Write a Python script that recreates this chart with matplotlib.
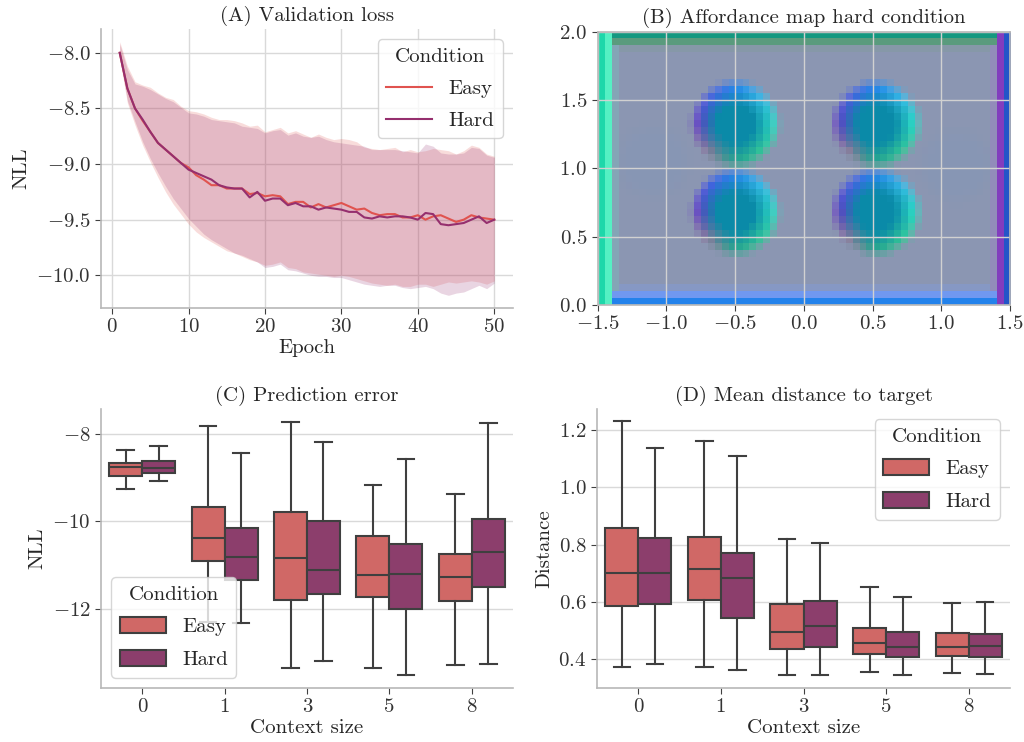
import numpy as np
import matplotlib
matplotlib.use("Agg")
import matplotlib.pyplot as plt
from matplotlib.patches import Patch

plt.rcParams.update({
    "font.family": "serif",
    "font.serif": ["cmr10"],
    "mathtext.fontset": "cm",
    "axes.formatter.use_mathtext": True,
    "font.size": 15,
    "axes.titlesize": 15,
    "axes.labelsize": 15,
    "text.color": "0.15",
    "axes.labelcolor": "0.15",
    "xtick.color": "0.25",
    "ytick.color": "0.25",
    "xtick.labelcolor": "0.2",
    "ytick.labelcolor": "0.2",
    "axes.edgecolor": "0.72",
    "axes.linewidth": 1.2,
    "grid.color": "0.85",
    "grid.linewidth": 1.0,
    "xtick.major.size": 4,
    "ytick.major.size": 4,
    "legend.fontsize": 15,
    "legend.title_fontsize": 15,
    "legend.labelspacing": 0.65,
})

# ---------------- data ----------------
epochs = list(range(1, 51))
easy_loss = [-8.00, -8.32, -8.50, -8.61, -8.71, -8.81, -8.87, -8.93, -8.99, -9.03,
             -9.10, -9.14, -9.19, -9.19, -9.22, -9.22, -9.22, -9.27, -9.26, -9.29,
             -9.28, -9.29, -9.36, -9.34, -9.34, -9.39, -9.36, -9.39, -9.37, -9.35,
             -9.38, -9.41, -9.40, -9.44, -9.46, -9.45, -9.45, -9.48, -9.48, -9.46,
             -9.50, -9.47, -9.46, -9.49, -9.52, -9.50, -9.46, -9.48, -9.49, -9.50]
hard_loss = [-8.00, -8.32, -8.50, -8.60, -8.71, -8.81, -8.87, -8.93, -8.99, -9.05,
             -9.08, -9.11, -9.14, -9.19, -9.21, -9.22, -9.22, -9.30, -9.25, -9.33,
             -9.31, -9.31, -9.37, -9.35, -9.38, -9.38, -9.41, -9.39, -9.40, -9.41,
             -9.43, -9.43, -9.48, -9.49, -9.47, -9.48, -9.47, -9.47, -9.48, -9.50,
             -9.44, -9.45, -9.54, -9.55, -9.54, -9.53, -9.50, -9.47, -9.53, -9.50]
easy_upper = [-7.90, -8.12, -8.26, -8.29, -8.31, -8.36, -8.40, -8.42, -8.48, -8.52,
              -8.53, -8.55, -8.58, -8.60, -8.60, -8.61, -8.63, -8.66, -8.65, -8.71,
              -8.69, -8.67, -8.72, -8.70, -8.73, -8.76, -8.73, -8.76, -8.78, -8.77,
              -8.78, -8.80, -8.85, -8.86, -8.87, -8.86, -8.85, -8.89, -8.87, -8.89,
              -8.88, -8.86, -8.87, -8.88, -8.91, -8.88, -8.83, -8.85, -8.91, -8.93]
hard_upper = [-7.92, -8.15, -8.28, -8.30, -8.33, -8.37, -8.41, -8.44, -8.49, -8.54,
              -8.55, -8.57, -8.60, -8.61, -8.62, -8.63, -8.66, -8.67, -8.68, -8.72,
              -8.70, -8.69, -8.74, -8.72, -8.75, -8.76, -8.75, -8.78, -8.80, -8.81,
              -8.82, -8.83, -8.84, -8.87, -8.87, -8.87, -8.87, -8.88, -8.89, -8.90,
              -8.82, -8.84, -8.90, -8.91, -8.91, -8.90, -8.85, -8.86, -8.92, -8.94]
easy_lower = [-8.05, -8.45, -8.65, -8.83, -8.98, -9.12, -9.25, -9.36, -9.45, -9.54,
              -9.61, -9.66, -9.70, -9.74, -9.78, -9.80, -9.83, -9.86, -9.88, -9.91,
              -9.90, -9.88, -9.93, -9.94, -9.97, -9.98, -9.99, -10.00, -10.01, -10.00,
              -10.01, -10.03, -10.05, -10.07, -10.08, -10.09, -10.08, -10.10, -10.10, -10.08,
              -10.08, -10.10, -10.08, -10.06, -10.07, -10.06, -10.05, -10.06, -10.08, -10.05]
hard_lower = [-8.04, -8.43, -8.62, -8.80, -8.95, -9.08, -9.20, -9.31, -9.40, -9.49,
              -9.56, -9.63, -9.68, -9.72, -9.76, -9.80, -9.82, -9.85, -9.88, -9.93,
              -9.92, -9.90, -9.95, -9.96, -9.98, -10.00, -10.01, -10.01, -10.02, -10.02,
              -10.04, -10.06, -10.08, -10.09, -10.10, -10.09, -10.09, -10.11, -10.12, -10.11,
              -10.10, -10.12, -10.16, -10.18, -10.16, -10.15, -10.12, -10.09, -10.12, -10.07]

conditions = ["Easy", "Hard"]
context_sizes = ["0", "1", "3", "5", "8"]

# Prediction error (NLL) box statistics per context size
nll_easy_whislo = [-9.27, -12.30, -13.36, -13.36, -13.29]
nll_easy_q1 = [-8.96, -10.91, -11.81, -11.73, -11.82]
nll_easy_med = [-8.76, -10.39, -10.85, -11.24, -11.27]
nll_easy_q3 = [-8.67, -9.67, -9.78, -10.33, -10.75]
nll_easy_whishi = [-8.38, -7.82, -7.72, -9.18, -9.37]
nll_hard_whislo = [-9.09, -12.32, -13.21, -13.53, -13.28]
nll_hard_q1 = [-8.89, -11.34, -11.66, -12.01, -11.51]
nll_hard_med = [-8.77, -10.83, -11.12, -11.20, -10.71]
nll_hard_q3 = [-8.62, -10.16, -9.99, -10.52, -9.95]
nll_hard_whishi = [-8.28, -8.43, -8.19, -8.57, -7.75]

# Mean distance to target box statistics
dist_easy_whislo = [0.372, 0.372, 0.344, 0.352, 0.351]
dist_easy_q1 = [0.584, 0.605, 0.432, 0.415, 0.408]
dist_easy_med = [0.701, 0.713, 0.493, 0.455, 0.441]
dist_easy_q3 = [0.857, 0.828, 0.591, 0.509, 0.491]
dist_easy_whishi = [1.232, 1.164, 0.818, 0.651, 0.596]
dist_hard_whislo = [0.380, 0.360, 0.343, 0.343, 0.347]
dist_hard_q1 = [0.590, 0.541, 0.441, 0.404, 0.404]
dist_hard_med = [0.699, 0.683, 0.514, 0.441, 0.443]
dist_hard_q3 = [0.822, 0.771, 0.601, 0.493, 0.485]
dist_hard_whishi = [1.140, 1.111, 0.805, 0.616, 0.599]

# Affordance map description (object layout and colouring)
obj_centers = [(-0.50, 1.32), (0.52, 1.32), (-0.50, 0.68), (0.52, 0.68)]
obj_radius = 0.30
faint_centers = [(-1.10, 1.05), (1.10, 1.02)]
bg_rgb = (139, 150, 178)
core_rgb = (10, 138, 168)
rim_angles = [0, 45, 90, 135, 180, 225, 270, 315, 360]
rim_rgbs = [(50, 225, 200), (60, 195, 240), (45, 135, 245), (75, 90, 230), (105, 60, 200),
            (140, 120, 150), (45, 170, 140), (55, 205, 150), (50, 225, 200)]
left_border = [(30, 215, 170), (85, 240, 195), (132, 165, 182)]
right_border = [(35, 85, 200), (130, 60, 190), (146, 140, 186)]
top_border = [(20, 152, 128), (90, 155, 125), (134, 152, 168)]
bottom_border = [(35, 130, 235), (112, 152, 240), (134, 152, 196)]

easy_line_color = "#e0534f"
hard_line_color = "#952f6e"
easy_box_color = "#d06866"
hard_box_color = "#8c3e6c"
box_edge = "#3f3f3f"

# ---------------- figure ----------------
fig = plt.figure(figsize=(10.24, 7.42), dpi=100)
W, H = 1024, 742


def rect(l, r, t, b):
    return [l / W, 1 - b / H, (r - l) / W, (b - t) / H]


axA = fig.add_axes(rect(101, 513, 29, 308))
axB = fig.add_axes(rect(597.7, 1010, 31.7, 305))
axC = fig.add_axes(rect(101, 513, 409, 688))
axD = fig.add_axes(rect(597, 1010, 409, 688))

# ---- (A) ----
axA.set_axisbelow(True)
axA.grid(True)
axA.fill_between(epochs, easy_lower, easy_upper, color=easy_line_color, alpha=0.2, lw=0)
axA.fill_between(epochs, hard_lower, hard_upper, color=hard_line_color, alpha=0.2, lw=0)
axA.plot(epochs, easy_loss, color=easy_line_color, lw=1.5, label="Easy")
axA.plot(epochs, hard_loss, color=hard_line_color, lw=1.5, label="Hard")
axA.set_xlim(-1.45, 52.45)
axA.set_ylim(-10.294, -7.786)
axA.set_xticks([0, 10, 20, 30, 40, 50])
axA.set_yticks([-8.0, -8.5, -9.0, -9.5, -10.0])
axA.set_yticklabels(["$-8.0$", "$-8.5$", "$-9.0$", "$-9.5$", "$-10.0$"])
axA.set_xlabel("Epoch", labelpad=2)
axA.set_ylabel("NLL")
axA.set_title("(A) Validation loss", pad=6)
axA.legend(title="Condition", loc="upper right", handlelength=2.2)
for s in ["top", "right"]:
    axA.spines[s].set_visible(False)

# ---- (B) ----
nx, ny = 60, 40
xc = np.linspace(-1.5 + 0.025, 1.5 - 0.025, nx)
yc = np.linspace(0.025, 2 - 0.025, ny)
X, Y = np.meshgrid(xc, yc)
bg = np.array(bg_rgb, float) / 255
img = np.ones((ny, nx, 3)) * bg
for (cx, cy) in faint_centers:
    r = np.hypot(X - cx, Y - cy) / 0.27
    w = (np.clip((1.1 - r) / 0.4, 0, 1) * 0.12)[..., None]
    img = w * np.array([110, 150, 200]) / 255 + (1 - w) * img
core = np.array(core_rgb, float) / 255
rim_arr = np.array(rim_rgbs, float) / 255
for (cx, cy) in obj_centers:
    dx, dy = X - cx, Y - cy
    r = np.hypot(dx, dy) / obj_radius
    ang = np.degrees(np.arctan2(dy, dx)) % 360
    rim = np.stack([np.interp(ang, rim_angles, rim_arr[:, k]) for k in range(3)], -1)
    t = np.clip((r - 0.45) / 0.5, 0, 1)[..., None]
    col = (1 - t) * core + t * rim
    w = np.clip((1.12 - r) / 0.25, 0, 1)[..., None]
    img = w * col + (1 - w) * img
for i, c in enumerate(top_border):
    img[ny - 1 - i, :, :] = np.array(c) / 255
for i, c in enumerate(bottom_border):
    img[i, :, :] = np.array(c) / 255
for i, c in enumerate(left_border):
    if i < 2:
        img[:, i, :] = np.array(c) / 255
    else:
        img[2:ny - 2, i, :] = np.array(c) / 255
for i, c in enumerate(right_border):
    if i < 2:
        img[:, nx - 1 - i, :] = np.array(c) / 255
    else:
        img[2:ny - 2, nx - 1 - i, :] = np.array(c) / 255
axB.imshow(img, origin="lower", extent=(-1.5, 1.5, 0, 2), interpolation="nearest", aspect="auto")
axB.set_axisbelow(True)
axB.grid(True, color="0.82", lw=1.0)
axB.set_xlim(-1.5, 1.5)
axB.set_ylim(0, 2)
axB.set_xticks([-1.5, -1.0, -0.5, 0.0, 0.5, 1.0, 1.5])
axB.set_xticklabels(["$-1.5$", "$-1.0$", "$-0.5$", "$0.0$", "$0.5$", "$1.0$", "$1.5$"])
axB.set_yticks([0.0, 0.5, 1.0, 1.5, 2.0])
axB.set_yticklabels(["$0.0$", "$0.5$", "$1.0$", "$1.5$", "$2.0$"])
axB.set_title("(B) Affordance map hard condition", pad=6)


# ---- box plots ----
def draw_boxes(ax, stats_easy, stats_hard):
    pos = np.arange(len(context_sizes))
    for stats, off, fc in [(stats_easy, -0.2, easy_box_color), (stats_hard, 0.2, hard_box_color)]:
        bx = []
        for k in range(len(context_sizes)):
            bx.append(dict(whislo=stats[0][k], q1=stats[1][k], med=stats[2][k],
                           q3=stats[3][k], whishi=stats[4][k], fliers=[]))
        ax.bxp(bx, positions=pos + off, widths=0.4, patch_artist=True, showfliers=False,
               manage_ticks=False,
               boxprops=dict(facecolor=fc, edgecolor=box_edge, lw=1.5),
               whiskerprops=dict(color=box_edge, lw=1.5),
               capprops=dict(color=box_edge, lw=1.5),
               medianprops=dict(color=box_edge, lw=1.5))
    ax.set_xticks(pos)
    ax.set_xticklabels(context_sizes)
    ax.set_xlim(-0.5, 4.5)
    ax.set_axisbelow(True)
    ax.yaxis.grid(True)
    ax.set_xlabel("Context size", labelpad=2)
    for s in ["top", "right"]:
        ax.spines[s].set_visible(False)
    handles = [Patch(facecolor=easy_box_color, edgecolor=box_edge, lw=1.5, label="Easy"),
               Patch(facecolor=hard_box_color, edgecolor=box_edge, lw=1.5, label="Hard")]
    return handles


hC = draw_boxes(axC,
                [nll_easy_whislo, nll_easy_q1, nll_easy_med, nll_easy_q3, nll_easy_whishi],
                [nll_hard_whislo, nll_hard_q1, nll_hard_med, nll_hard_q3, nll_hard_whishi])
axC.set_ylim(-13.82, -7.43)
axC.set_yticks([-8, -10, -12])
axC.set_yticklabels(["$-8$", "$-10$", "$-12$"])
axC.set_ylabel("NLL")
axC.set_title("(C) Prediction error", pad=6)
axC.legend(handles=hC, title="Condition", loc="lower left", handlelength=2.2, handleheight=0.8)

hD = draw_boxes(axD,
                [dist_easy_whislo, dist_easy_q1, dist_easy_med, dist_easy_q3, dist_easy_whishi],
                [dist_hard_whislo, dist_hard_q1, dist_hard_med, dist_hard_q3, dist_hard_whishi])
axD.set_ylim(0.297, 1.275)
axD.set_yticks([0.4, 0.6, 0.8, 1.0, 1.2])
axD.set_yticklabels(["$0.4$", "$0.6$", "$0.8$", "$1.0$", "$1.2$"])
axD.set_ylabel("Distance")
axD.set_title("(D) Mean distance to target", pad=6)
axD.legend(handles=hD, title="Condition", loc="upper right", handlelength=2.2, handleheight=0.8)

fig.savefig("out.png", dpi=100)
